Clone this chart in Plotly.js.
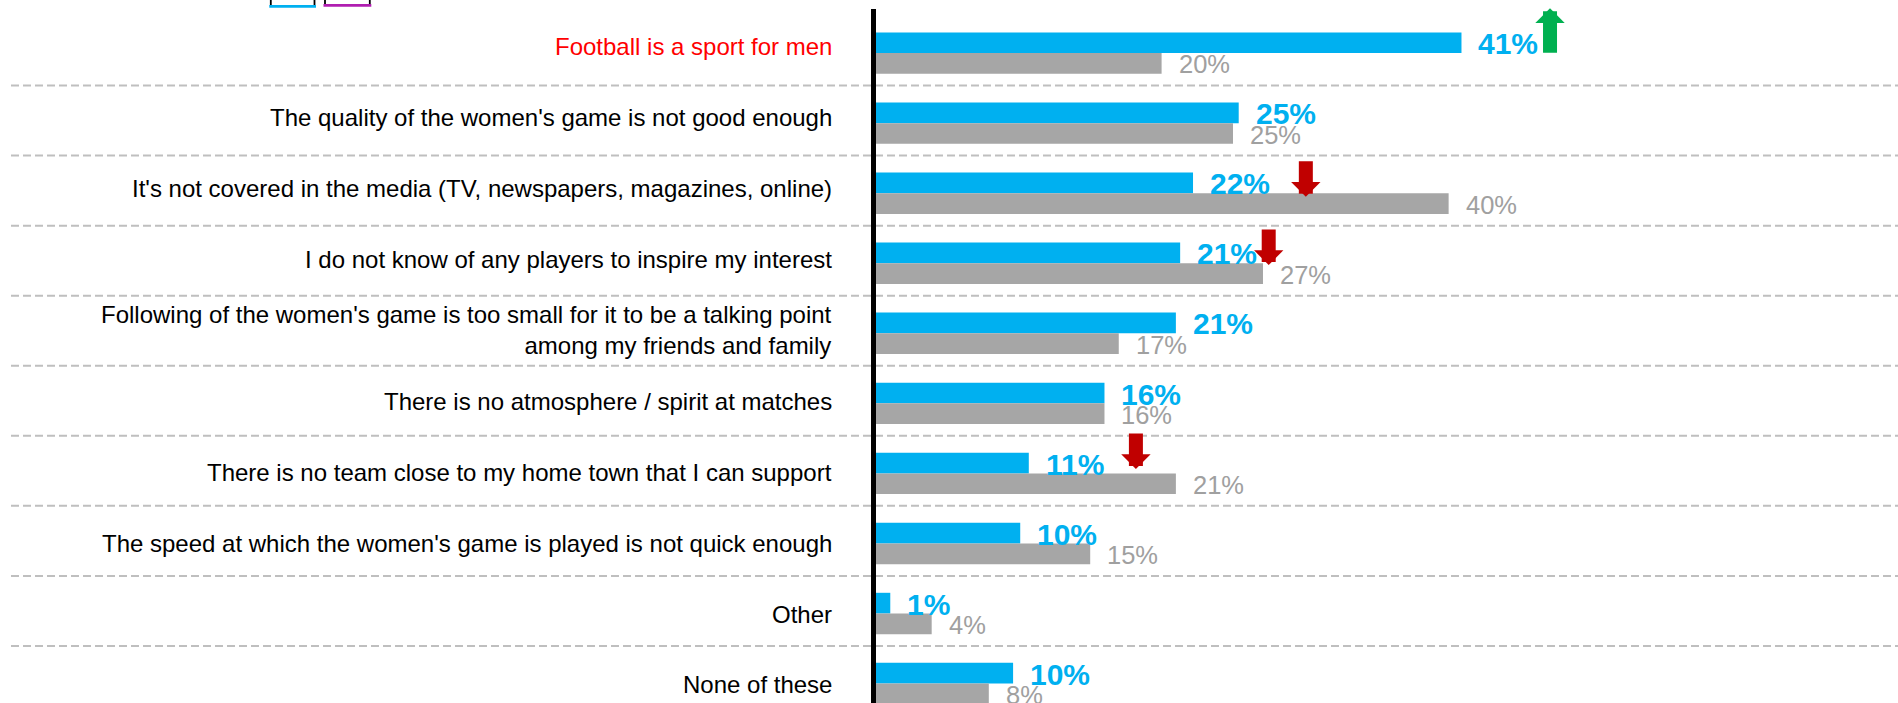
<!DOCTYPE html>
<html>
<head>
<meta charset="utf-8">
<script src="https://cdn.plot.ly/plotly-3.0.1.min.js"></script>
<style>
  html, body { margin: 0; padding: 0; background: #ffffff; }
  #chart { width: 1898px; height: 703px; }
</style>
</head>
<body>
<div id="chart"></div>
<script>
// ---------------- DATA ----------------
const categories = [
  "Football is a sport for men",
  "The quality of the women's game is not good enough",
  "It's not covered in the media (TV, newspapers, magazines, online)",
  "I do not know of any players to inspire my interest",
  "Following of the women's game is too small for it to be a talking point<br>among my friends and family",
  "There is no atmosphere / spirit at matches",
  "There is no team close to my home town that I can support",
  "The speed at which the women's game is played is not quick enough",
  "Other",
  "None of these"
];
const highlightedCategory = 0;

// current wave (blue) and previous wave (grey), percent
const currentValues  = [41.0, 25.4, 22.2, 21.3, 21.0, 16.0, 10.7, 10.1, 1.0, 9.6];
const previousValues = [20.0, 25.0, 40.1, 27.1, 17.0, 16.0, 21.0, 15.0, 3.9, 7.9];
const currentLabels  = ["41%", "25%", "22%", "21%", "21%", "16%", "11%", "10%", "1%", "10%"];
const previousLabels = ["20%", "25%", "40%", "27%", "17%", "16%", "21%", "15%", "4%", "8%"];

// significant change markers: category index, x position (percent scale), direction
const changeRows = [0, 2, 3, 6];
const changeX    = [47.2, 30.1, 27.5, 18.2];
const changeDir  = ["up", "down", "down", "down"];

// ---------------- LAYOUT GEOMETRY ----------------
const W = 1898, H = 703;
const X0PX = 876;          // pixel of 0%
const PX_PER_PCT = 14.28;  // pixels per percentage point
const ROW0PX = 53.1;       // pixel of first category centre
const PX_PER_ROW = 70.05;  // pixels per category
const xRange = [-X0PX / PX_PER_PCT, (W - X0PX) / PX_PER_PCT];
const yTop = -ROW0PX / PX_PER_ROW;
const yBottom = yTop + H / PX_PER_ROW;
const px2x = px => (px - X0PX) / PX_PER_PCT;
const px2y = py => (py - ROW0PX) / PX_PER_ROW;
const BAR_W = 20.7 / PX_PER_ROW;

const BLUE = "#00B0F0", GREY = "#A6A6A6", GREY_TXT = "#A0A0A0";
const RED_ARROW = "#C00000", GREEN_ARROW = "#00B050";
const idx = categories.map((_, i) => i);

const traces = [
  {
    type: "bar", orientation: "h", name: "Current",
    y: idx, x: currentValues, width: BAR_W, offset: -BAR_W,
    marker: { color: BLUE, line: { width: 0 } },
    hoverinfo: "skip"
  },
  {
    type: "bar", orientation: "h", name: "Previous",
    y: idx, x: previousValues, width: BAR_W, offset: 0,
    marker: { color: GREY, line: { width: 0 } },
    hoverinfo: "skip"
  }
];

const annotations = [];
// category labels
categories.forEach((c, i) => {
  annotations.push({
    x: 0, y: i, xref: "x", yref: "y",
    text: c, showarrow: false,
    xanchor: "right", yanchor: "middle", align: "right",
    xshift: -42, yshift: 6.6 - 0.89 * i,
    font: { size: 24, color: i === highlightedCategory ? "#FF0000" : "#000000" }
  });
});
// value labels
currentValues.forEach((v, i) => {
  annotations.push({
    x: v, y: i - BAR_W / 2, xref: "x", yref: "y",
    text: "<b>" + currentLabels[i] + "</b>", showarrow: false,
    xanchor: "left", yanchor: "middle", xshift: 15, yshift: -1,
    font: { size: 30, color: BLUE }
  });
});
previousValues.forEach((v, i) => {
  annotations.push({
    x: v, y: i + BAR_W / 2, xref: "x", yref: "y",
    text: previousLabels[i], showarrow: false,
    xanchor: "left", yanchor: "middle", xshift: 15, yshift: -1,
    font: { size: 25.5, color: GREY_TXT }
  });
});
// change arrows
const tipShiftPx = [0, 3.5, 1.75, -4.4];
changeRows.forEach((r, k) => {
  const up = changeDir[k] === "up";
  let tipY, tailY;
  if (up) {
    tailY = r + 1.2 / PX_PER_ROW;
    tipY = tailY - 46 / PX_PER_ROW;
  } else {
    tipY = r + tipShiftPx[k] / PX_PER_ROW;
    tailY = tipY - 37 / PX_PER_ROW;
  }
  annotations.push({
    x: changeX[k], y: tipY, xref: "x", yref: "y",
    ax: changeX[k], ay: tailY, axref: "x", ayref: "y",
    text: "", showarrow: true,
    arrowhead: 1, arrowsize: 0.35, arrowwidth: 14, standoff: 0,
    arrowcolor: up ? GREEN_ARROW : RED_ARROW
  });
});

const shapes = [];
// dashed separators
for (let i = 0; i < categories.length - 1; i++) {
  const yy = i + 0.5 - 2.6 / PX_PER_ROW;
  shapes.push({
    type: "line", xref: "x", yref: "y",
    x0: px2x(11), x1: xRange[1], y0: yy, y1: yy,
    line: { color: "#BFBFBF", width: 2, dash: "8px,4px" }, layer: "below"
  });
}
// vertical axis line
shapes.push({
  type: "line", xref: "x", yref: "y",
  x0: px2x(873.5), x1: px2x(873.5), y0: px2y(9), y1: yBottom,
  line: { color: "#000000", width: 5 }
});
// legend keys (cropped at the top edge)
const keyBoxes = [
  { l: 270.8, r: 314.5, bottom: 6.3, color: BLUE },
  { l: 325, r: 369.8, bottom: 5.3, color: "#B01EB0" }
];
keyBoxes.forEach(b => {
  shapes.push({ type: "line", xref: "x", yref: "y", x0: px2x(b.l), x1: px2x(b.l), y0: px2y(-2), y1: px2y(b.bottom), line: { color: "#000", width: 1.8 } });
  shapes.push({ type: "line", xref: "x", yref: "y", x0: px2x(b.r), x1: px2x(b.r), y0: px2y(-2), y1: px2y(b.bottom), line: { color: "#000", width: 1.8 } });
  shapes.push({ type: "line", xref: "x", yref: "y", x0: px2x(b.l - 1.5), x1: px2x(b.r + 1.5), y0: px2y(b.bottom), y1: px2y(b.bottom), line: { color: b.color, width: 2.8 } });
});

const layout = {
  width: W, height: H,
  margin: { l: 0, r: 0, t: 0, b: 0, pad: 0 },
  paper_bgcolor: "#ffffff", plot_bgcolor: "#ffffff",
  font: { family: "Liberation Sans, Arial, sans-serif", color: "#000" },
  showlegend: false,
  barmode: "overlay",
  xaxis: { range: xRange, visible: false, fixedrange: true },
  yaxis: { range: [yBottom, yTop], visible: false, fixedrange: true },
  annotations: annotations,
  shapes: shapes
};

Plotly.newPlot("chart", traces, layout, { staticPlot: true, displayModeBar: false });
</script>
</body>
</html>
